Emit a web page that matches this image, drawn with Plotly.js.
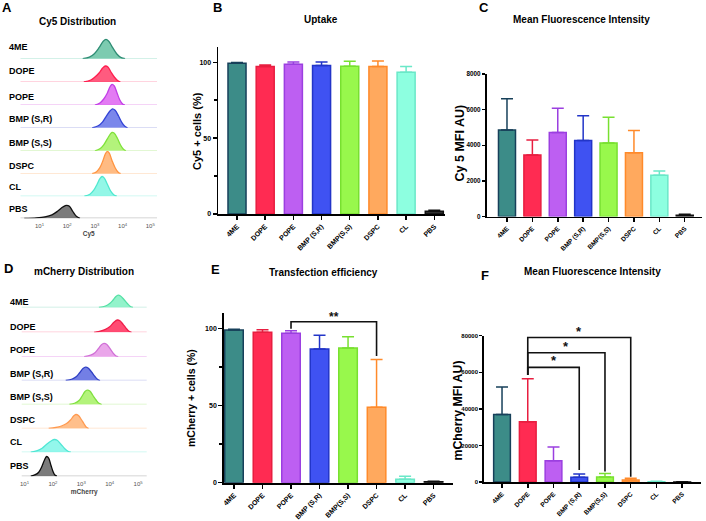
<!DOCTYPE html>
<html><head><meta charset="utf-8">
<script src="https://cdn.plot.ly/plotly-3.0.1.min.js"></script>
<style>html,body{margin:0;padding:0;background:#fff}#chart{width:706px;height:521px}</style>
</head><body><div id="chart"></div>
<script>
// ---------- data ----------
const histCategories = ['4ME','DOPE','POPE','BMP (S,R)','BMP (S,S)','DSPC','CL','PBS'];
const barCategories  = ['4ME','DOPE','POPE','BMP (S,R)','BMP(S,S)','DSPC','CL','PBS'];

// Cy5 distribution: log10(Cy5 intensity) and event counts
const cy5Log = [
  [2.56,2.80,2.98,3.15,3.30,3.40,3.50,3.64,3.80,3.95,4.09],
  [2.60,2.85,3.00,3.15,3.28,3.38,3.47,3.58,3.70,3.82,3.92],
  [3.00,3.18,3.32,3.45,3.55,3.62,3.70,3.80,3.90,4.00,4.08],
  [2.90,3.12,3.28,3.42,3.55,3.64,3.73,3.85,3.97,4.08,4.18],
  [3.00,3.18,3.32,3.45,3.55,3.62,3.70,3.82,3.93,4.03,4.12],
  [2.90,3.06,3.18,3.29,3.38,3.45,3.52,3.62,3.73,3.84,3.93],
  [2.62,2.82,2.96,3.08,3.18,3.26,3.34,3.45,3.57,3.69,3.79],
  [0.45,0.90,1.20,1.45,1.65,1.80,1.92,1.98,2.08,2.20,2.33,2.46]
];
const cy5Count = [
  [0,1.5,5,11,17.5,19.3,17.5,11,4.5,1,0],
  [0,2,5,9,14,16,15,10,5,1.5,0],
  [0,2,6,12,18.5,20.7,19,12,5,1,0],
  [0,2,6,12,17,19,17.5,12,5.5,1.5,0],
  [0,2,6,12,16.5,18.3,17.5,12,5.5,1.5,0],
  [0,2,6,13,20,22.3,20.5,13,6,1.5,0],
  [0,2,6,12,17.5,19.7,18,12,5,1.2,0],
  [0,0.5,1.5,3.5,7,10.5,12.5,13,12,7,2,0]
];
// mCherry distribution
const mchLog = [
  [3.62,3.85,4.00,4.12,4.22,4.30,4.38,4.50,4.62,4.73,4.82],
  [3.45,3.70,3.85,4.00,4.15,4.27,4.36,4.47,4.58,4.68,4.77],
  [3.10,3.33,3.48,3.60,3.71,3.80,3.89,4.00,4.11,4.21,4.30],
  [2.45,2.68,2.83,2.95,3.06,3.15,3.24,3.36,3.48,3.58,3.66],
  [2.58,2.78,2.92,3.03,3.13,3.21,3.30,3.41,3.52,3.62,3.72],
  [1.85,2.10,2.30,2.48,2.62,2.73,2.81,2.90,3.00,3.10,3.18,3.26],
  [1.22,1.45,1.62,1.78,1.95,2.05,2.15,2.28,2.42,2.53,2.63],
  [1.22,1.38,1.50,1.60,1.70,1.78,1.85,1.93,2.00,2.07,2.14]
];
const mchCount = [
  [0,1.5,4,7.5,11,12.3,11.5,8,4,1,0],
  [0,1.5,3,5.5,10,12.3,11.5,8,4,1,0],
  [0,1.5,4,8,12,13.3,12.5,8.5,4,1,0],
  [0,1.5,4,8,12,13.3,12.5,8.5,4,1,0],
  [0,1.5,4,8.5,13,14.3,13.5,9,4.5,1.2,0],
  [0,1,2.5,5,8.5,12.5,14,13,9,4.5,1.2,0],
  [0,1.5,4,8,11.5,12.7,12,8,3.5,1,0],
  [0,1.5,4,9,16,19.7,18,11,5,1.2,0]
];
const histTickVals = [1,2,3,4,5];
const histTickText = ['10<sup>1</sup>','10<sup>2</sup>','10<sup>3</sup>','10<sup>4</sup>','10<sup>5</sup>'];

const uptakePct = [99.4, 97.2, 98.7, 97.8, 97.4, 97.2, 93.4, 1.8];
const uptakeErr = [0.5, 1.0, 1.5, 2.4, 3.3, 3.7, 3.8, 0.6];
const cy5Mfi    = [4850, 3450, 4720, 4260, 4130, 3580, 2320, 75];
const cy5MfiErr = [1760, 840, 1360, 1400, 1440, 1250, 240, 50];
const transfectionPct = [98.9, 97.4, 96.8, 86.6, 87.2, 48.8, 2.2, 0.6];
const transfectionErr = [0.5, 1.7, 1.7, 8.9, 7.4, 31, 2.0, 0.4];
const mcherryMfi    = [36900, 32900, 11600, 2550, 2700, 1100, 200, 50];
const mcherryMfiErr = [15100, 23600, 7500, 1800, 2000, 900, 150, 30];

// ---------- styles ----------
const barFill = ['#3c8c88','#ff2b52','#bd5ff2','#3f52f2','#98f84c','#ffa95e','#8dffe0','#303030'];
const barLine = ['#17405a','#e81e40','#9b3fe0','#2235c8','#78e030','#ff8a2a','#6ae8c8','#101010'];
const histFillA = ['rgba(80,185,150,0.75)','rgba(255,50,95,0.8)','rgba(220,90,240,0.8)','rgba(90,105,230,0.8)','rgba(160,240,90,0.8)','rgba(255,170,100,0.8)','rgba(120,245,225,0.8)','rgba(100,100,100,0.85)'];
const histLineA = ['#2e8d74','#ff1f4f','#c23fe6','#3344d6','#7fe23a','#ff9440','#4fe8cf','#111111'];
const histFillD = ['rgba(120,240,190,0.8)','rgba(255,45,90,0.85)','rgba(230,150,230,0.85)','rgba(90,105,225,0.85)','rgba(160,240,90,0.8)','rgba(255,175,110,0.8)','rgba(120,245,230,0.8)','rgba(100,100,100,0.85)'];
const histLineD = ['#55e0a5','#f01e4a','#d070d6','#3040c4','#80e040','#ff9a50','#50e6d4','#0a0a0a'];
const histBase = ['#c4ece0','#ffc6d4','#f2c6f5','#cfd2f2','#d8f5c4','#ffe0c6','#c4f7ef','#c8c8c8'];

const W = 706, H = 521;
const px = v => v / W;
const py = v => 1 - v / H;
const FONT = 'Liberation Sans, Arial, sans-serif';

const traces = [];
const layout = {
  width: W, height: H, margin: {l:0, r:0, t:0, b:0},
  paper_bgcolor: '#fff', plot_bgcolor: 'rgba(0,0,0,0)',
  showlegend: false, barmode: 'overlay',
  font: {family: FONT, color: '#000', weight: 'bold'},
  annotations: [], shapes: []
};

// ---------- histogram panels ----------
const rowBaseA = [58.7, 82, 105, 127.8, 150.8, 173.7, 196.2, 218.3];
const rowBaseD = [307.5, 332.3, 356.7, 380.5, 404.5, 428.5, 452.2, 476.2];
const labelYA = [47.3, 70.7, 96.7, 119.3, 143.3, 166, 186.7, 209];
const labelYD = [301.7, 326.7, 350, 374.3, 396.7, 420, 441.7, 466];

function addHist(logs, counts, fills, lines, bases, xName, yStart, rowBase, rowH, labelY, labelX) {
  for (let i = 0; i < histCategories.length; i++) {
    const yn = yStart + i;
    const yId = yn === 1 ? 'y' : 'y' + yn;
    const yKey = yn === 1 ? 'yaxis' : 'yaxis' + yn;
    layout[yKey] = {
      domain: [py(rowBase[i]), py(rowBase[i] - rowH)], range: [0, rowH],
      visible: false, anchor: xName, fixedrange: true
    };
    layout.shapes.push({type:'line', xref: xName + ' domain', x0:0, x1:1, yref: yId, y0:0, y1:0,
      line:{color: bases[i], width:1.5}, layer:'below'});
    traces.push({
      type:'scatter', mode:'lines', x: logs[i], y: counts[i], xaxis: xName, yaxis: yId,
      line:{shape:'spline', smoothing:1, color: lines[i], width:1.3},
      fill:'tozeroy', fillcolor: fills[i], hoverinfo:'skip'
    });
    layout.annotations.push({text: histCategories[i], xref:'paper', yref:'paper',
      x: px(labelX), y: py(labelY[i]), xanchor:'left', yanchor:'middle', showarrow:false,
      font:{size:9, weight:'bold'}});
  }
}
addHist(cy5Log, cy5Count, histFillA, histLineA, histBase, 'x', 1, rowBaseA, 23, labelYA, 6.5);
addHist(mchLog, mchCount, histFillD, histLineD, histBase, 'x2', 9, rowBaseD, 24, labelYD, 8);

const histX = (dom, rng, anchor, title) => ({
  domain: dom, range: rng, anchor: anchor, showgrid:false, zeroline:false, showline:false,
  ticks:'', tickvals: histTickVals, ticktext: histTickText, ticklabelstandoff: 3,
  tickfont:{size:6, color:'#555', weight:'normal'},
  title:{text: title, font:{size:6.5, color:'#444', weight:'bold'}, standoff: 3}, fixedrange:true
});
layout.xaxis  = histX([px(20.5), px(157)], [0.314, 5.242], 'y8', 'Cy5');
layout.xaxis2 = histX([px(21.7), px(146.7)], [0.901, 5.303], 'y16', 'mCherry');

// ---------- bar panels ----------
function addBars(vals, errs, xn, yn, width) {
  const xId = 'x' + xn, yId = 'y' + yn;
  for (let i = 0; i < barCategories.length; i++) {
    traces.push({
      type:'bar', x:[barCategories[i]], y:[vals[i]], width: width, xaxis: xId, yaxis: yId,
      marker:{color: barFill[i], line:{color: barLine[i], width:1.5}},
      error_y:{type:'data', symmetric:false, array:[errs[i]], arrayminus:[0],
        color: barLine[i], thickness:1.5, width:6},
      hoverinfo:'skip'
    });
  }
}
addBars(uptakePct, uptakeErr, 3, 17, 0.64);
addBars(cy5Mfi, cy5MfiErr, 4, 18, 0.67);
addBars(transfectionPct, transfectionErr, 5, 19, 0.65);
addBars(mcherryMfi, mcherryMfiErr, 6, 20, 0.65);

const barX = (dom, rng, anchor, fs) => ({
  domain: dom, range: rng, anchor: anchor, type:'category', categoryorder:'array',
  categoryarray: barCategories, tickangle:-45, ticks:'outside', ticklen:4, tickwidth:1.5,
  tickcolor:'#000', showline:true, linewidth:1.8, linecolor:'#000', showgrid:false,
  zeroline:false, tickfont:{size: fs, weight:'bold'}, fixedrange:true
});
const barY = (dom, rng, anchor, dtick, minor, ts, tl) => {
  const a = {
    domain: dom, range: rng, anchor: anchor, dtick: dtick, tick0:0, tickformat:'d',
    ticks:'outside', ticklen:tl, tickwidth:1.5, tickcolor:'#000', showline:true, linewidth:1.8,
    linecolor:'#000', showgrid:false, zeroline:false, tickfont:{size: ts, weight:'bold'},
    fixedrange:true
  };
  if (minor) a.minor = {dtick: minor, ticks:'outside', ticklen:3, tickwidth:1.5, tickcolor:'#000', showgrid:false};
  return a;
};
layout.xaxis3 = barX([px(218.3), px(445)], [-0.664, 7.38], 'y17', 7);
layout.yaxis17 = barY([py(214), py(47.1)], [0, 110], 'x3', 50, 25, 7, 4);
layout.xaxis4 = barX([px(486.5), px(702)], [-0.807, 7.68], 'y18', 6.5);
layout.yaxis18 = barY([py(216.5), py(74)], [0, 8000], 'x4', 2000, null, 6.3, 3);
layout.xaxis5 = barX([px(224), px(452.7)], [-0.35, 7.67], 'y19', 7);
layout.yaxis19 = barY([py(482.7), py(312.9)], [0, 110], 'x5', 50, 25, 7, 4);
layout.xaxis6 = barX([px(484), px(701)], [-0.70, 7.73], 'y20', 6.5);
layout.yaxis20 = barY([py(482), py(335.7)], [0, 80000], 'x6', 20000, null, 6, 3);

// y-axis titles (rotated text)
const yTitles = [
  ['Cy5 + cells (%)', 197, 131, 11],
  ['Cy 5 MFI AU)', 459.5, 143, 12.5],
  ['mCherry + cells (%)', 191, 398, 10.5],
  ['mCherry MFI AU)', 457.5, 411, 12.3]
];
yTitles.forEach(t => layout.annotations.push({text:t[0], xref:'paper', yref:'paper',
  x: px(t[1]), y: py(t[2]), xanchor:'center', yanchor:'middle', textangle:-90, showarrow:false,
  font:{size:t[3], weight:'bold'}}));

// ---------- significance brackets ----------
const bracketE = [{from:'POPE', to:'DSPC', y0:99.8, top:104.3, y1:82, label:'**'}];
const bracketF = [
  {from:'DOPE', to:'BMP (S,R)', y0:58500, top:62700, y1:6600, label:'*'},
  {from:'DOPE', to:'BMP(S,S)',  y0:58500, top:70650, y1:5700, label:'*'},
  {from:'DOPE', to:'DSPC',      y0:58500, top:79000, y1:2900, label:'*'}
];
function addBrackets(list, xId, yId, fs, yshift) {
  list.forEach(b => {
    traces.push({type:'scatter', mode:'lines', xaxis:xId, yaxis:yId,
      x:[b.from, b.from, b.to, b.to], y:[b.y0, b.top, b.top, b.y1],
      line:{color:'#111', width:1.6}, hoverinfo:'skip'});
    const mid = (barCategories.indexOf(b.from) + barCategories.indexOf(b.to)) / 2;
    layout.annotations.push({text:b.label, xref:xId, yref:yId, x: mid, y: b.top,
      xanchor:'center', yanchor:'bottom', yshift: yshift, showarrow:false,
      font:{size: fs, weight:'bold', color:'#111'}});
  });
}
addBrackets(bracketE, 'x5', 'y19', 12, -4);
addBrackets(bracketF, 'x6', 'y20', 13, -3);

// ---------- panel letters & titles ----------
const panelText = [
  ['A', 6.5, 7.5, 13], ['B', 217, 7.5, 13], ['C', 484, 7.5, 13],
  ['D', 8, 268.5, 13], ['E', 215, 269.5, 13], ['F', 484.7, 275.5, 13],
  ['Cy5 Distribution', 77.5, 22, 10], ['Uptake', 320.7, 19, 10],
  ['Mean Fluorescence Intensity', 581, 20, 10], ['mCherry Distribution', 84, 271, 10],
  ['Transfection efficiency', 323.3, 272.3, 10], ['Mean Fluorescence Intensity', 592.5, 271, 10]
];
panelText.forEach(t => layout.annotations.push({text:t[0], xref:'paper', yref:'paper',
  x: px(t[1]), y: py(t[2]), xanchor:'center', yanchor:'middle', showarrow:false,
  font:{size:t[3], weight:'bold'}}));

Plotly.newPlot('chart', traces, layout, {staticPlot:true, displayModeBar:false});
</script></body></html>
